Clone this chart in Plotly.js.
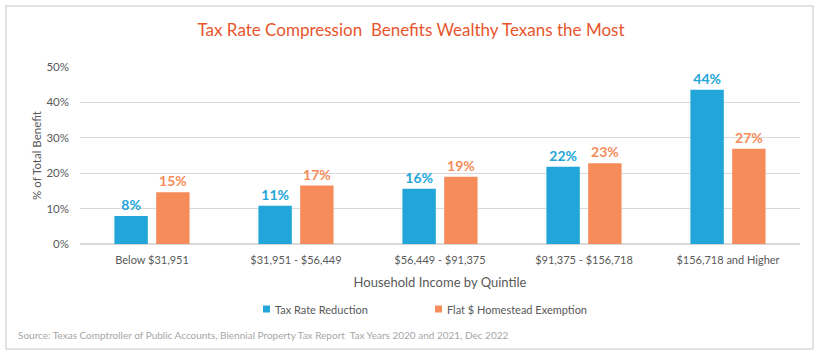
<!DOCTYPE html>
<html>
<head>
<meta charset="utf-8">
<script src="https://cdn.plot.ly/plotly-3.0.1.min.js"></script>
<style>html,body{margin:0;padding:0;background:#fff;}#chart{width:822px;height:362px;}</style>
</head>
<body>
<div id="chart"></div>
<script>
const categories = ["Below $31,951", "$31,951 - $56,449", "$56,449 - $91,375", "$91,375 - $156,718", "$156,718 and Higher"];
const taxRateReduction = [7.9, 10.8, 15.6, 21.8, 43.6];
const flatHomestead = [14.6, 16.5, 19.0, 22.8, 26.9];
const seriesNames = ["Tax Rate Reduction", "Flat $ Homestead Exemption"];
const yTickVals = [0, 10, 20, 30, 40, 50];
const yTickText = ["0%", "10%", "20%", "30%", "40%", "50%"];

const BLUE = "#22A5D8";
const ORANGE = "#F58C5A";
const FONT = "Lato, 'Liberation Sans', sans-serif";

// pixel -> paper helpers (plot area: x 80..800, y 67..244)
const L = 80, R = 800, T = 67, B = 244;
const px = v => (v - L) / (R - L);
const py = v => (B - v) / (B - T);

const bars = [
  {type: "bar", x: categories, y: taxRateReduction, name: seriesNames[0], showlegend: false,
   marker: {color: BLUE}, texttemplate: "%{y:.0f}%", textposition: "outside", cliponaxis: false,
   constraintext: "none", textfont: {family: FONT, size: 14, color: BLUE, weight: "bold"}, hoverinfo: "x+y"},
  {type: "bar", x: categories, y: flatHomestead, name: seriesNames[1], showlegend: false,
   marker: {color: ORANGE}, texttemplate: "%{y:.0f}%", textposition: "outside", cliponaxis: false,
   constraintext: "none", textfont: {family: FONT, size: 14, color: ORANGE, weight: "bold"}, hoverinfo: "x+y"}
];

// custom legend (square swatch + label), positioned like the reference
const legendItems = [
  {name: seriesNames[0], color: BLUE, sq: 263},
  {name: seriesNames[1], color: ORANGE, sq: 435}
];
const legendY = 309;
const legendShapes = legendItems.map(it => ({
  type: "rect", xref: "paper", yref: "paper",
  x0: px(it.sq), x1: px(it.sq + 7), y0: py(legendY + 3.5), y1: py(legendY - 3.5),
  line: {width: 0}, fillcolor: it.color
}));
const legendAnns = legendItems.map(it => ({
  text: it.name, xref: "paper", yref: "paper", x: px(it.sq + 10), y: py(legendY),
  xanchor: "left", yanchor: "middle", showarrow: false,
  font: {family: FONT, size: 11, color: "#595959"}
}));

const layout = {
  width: 822, height: 362,
  margin: {l: L, r: 822 - R, t: T, b: 362 - B, pad: 0},
  paper_bgcolor: "#fff", plot_bgcolor: "#fff",
  font: {family: FONT, color: "#595959"},
  showlegend: false,
  title: {text: "Tax Rate Compression  Benefits Wealthy Texans the Most",
          font: {family: FONT, size: 17, color: "#E8552D"},
          x: 0.5, xref: "container", xanchor: "center", y: 1 - 30/362, yref: "container", yanchor: "middle"},
  barmode: "group", bargap: 0.42, bargroupgap: 0.2,
  xaxis: {type: "category", showgrid: false, showline: false, ticks: "", zeroline: false,
          ticklabelstandoff: 8,
          tickfont: {family: FONT, size: 11, color: "#595959"},
          title: {text: "Household Income by Quintile", font: {family: FONT, size: 13, color: "#595959"}, standoff: 12},
          automargin: false, fixedrange: true},
  yaxis: {range: [0, 50], tickvals: yTickVals, ticktext: yTickText, showgrid: true,
          gridcolor: "#D9D9D9", gridwidth: 1.3, zeroline: true, zerolinecolor: "#D9D9D9", zerolinewidth: 1.3,
          showline: false, ticks: "", ticklabelstandoff: 10,
          tickfont: {family: FONT, size: 11.5, color: "#595959"},
          title: {text: "% of Total Benefit", font: {family: FONT, size: 11.5, color: "#595959"}, standoff: 2},
          automargin: false, fixedrange: true},
  shapes: [
    {type: "rect", xref: "paper", yref: "paper", x0: px(6), x1: px(813), y0: py(349), y1: py(6),
     line: {color: "#D9D9D9", width: 1.5}, fillcolor: "rgba(0,0,0,0)", layer: "below"}
  ].concat(legendShapes),
  annotations: [
    {text: "Source: Texas Comptroller of Public Accounts, Biennial Property Tax Report  Tax Years 2020 and 2021, Dec 2022",
     xref: "paper", yref: "paper", x: px(16), y: py(335), xanchor: "left", yanchor: "middle", showarrow: false,
     font: {family: FONT, size: 10, color: "#A6A6A6"}}
  ].concat(legendAnns)
};

Plotly.newPlot("chart", bars, layout, {displayModeBar: false, staticPlot: true});
</script>
</body>
</html>
